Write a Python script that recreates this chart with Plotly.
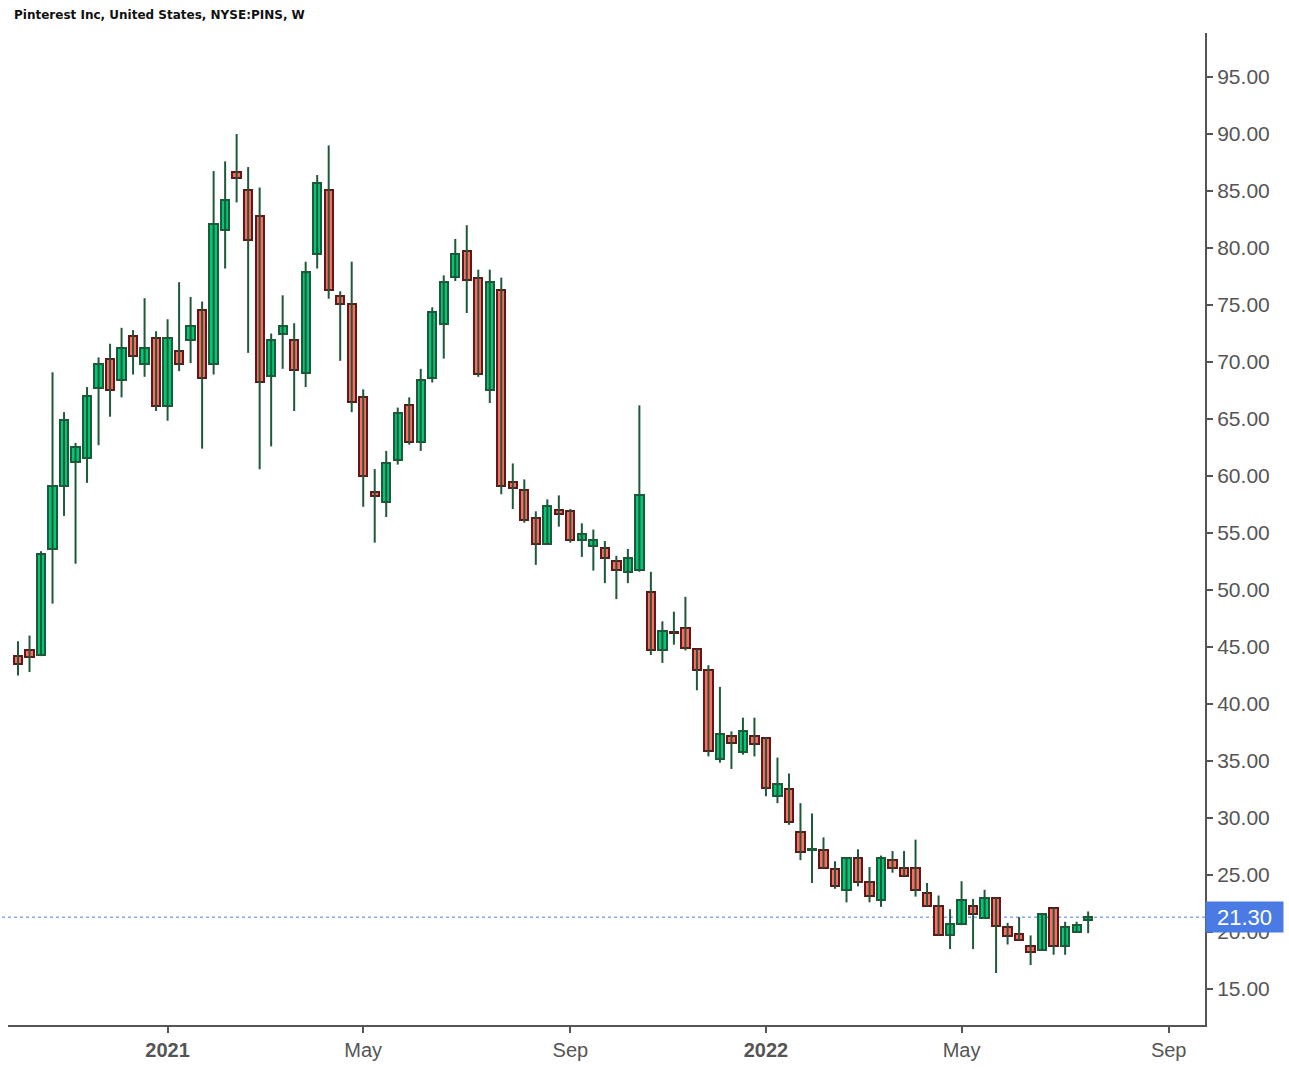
import plotly.graph_objects as go
import pandas as pd

# Weekly candles (week start dates), Pinterest Inc (NYSE:PINS)
start_date = "2020-09-28"
n_weeks = 94

opens = [44.2, 44.7, 44.3, 53.6, 59.1, 61.2, 61.6, 67.7, 70.3, 68.4,
         72.3, 69.8, 72.1, 66.1, 71.0, 71.9, 74.6, 69.8, 81.6, 86.7,
         85.1, 82.8, 68.8, 72.5, 71.9, 69.0, 79.5, 85.1, 75.8, 75.1,
         66.9, 58.6, 57.7, 61.4, 66.2, 63.0, 68.6, 73.3, 77.5, 79.7,
         77.4, 67.5, 76.3, 59.5, 58.8, 56.35, 54.0, 57.05, 56.9, 54.4,
         53.9, 53.7, 52.5, 51.6, 51.75, 49.85, 44.75, 46.3, 46.7, 44.8,
         43.0, 35.2, 37.2, 35.8, 37.2, 37.0, 31.9, 32.5, 28.8, 27.2,
         27.2, 25.5, 23.7, 26.5, 24.4, 22.8, 26.3, 25.6, 25.6, 23.4,
         22.3, 19.7, 20.7, 22.3, 21.2, 23.0, 20.4, 19.85, 18.8, 18.4,
         22.1, 18.8, 20.0, 21.05]
highs = [45.5, 46.0, 53.4, 69.1, 65.6, 62.9, 67.8, 70.4, 71.6, 73.0,
         72.8, 75.6, 72.7, 73.75, 77.0, 75.7, 75.3, 86.75, 87.6, 90.0,
         87.1, 85.3, 72.5, 75.85, 73.4, 78.8, 86.4, 89.0, 76.2, 78.8,
         67.6, 60.6, 62.2, 66.0, 66.9, 69.4, 74.8, 77.6, 80.8, 82.0,
         78.1, 78.1, 77.4, 61.1, 59.7, 56.9, 57.95, 58.3, 57.1, 55.85,
         55.3, 54.3, 53.0, 53.6, 66.2, 51.6, 47.25, 48.1, 49.4, 44.8,
         43.4, 41.5, 37.6, 38.8, 38.8, 37.1, 35.3, 33.9, 31.3, 30.4,
         28.3, 26.2, 26.5, 27.25, 25.7, 26.7, 27.1, 27.1, 28.1, 24.3,
         23.2, 22.0, 24.45, 22.9, 23.7, 23.0, 20.8, 21.3, 19.7, 21.6,
         22.1, 20.9, 20.9, 21.8]
lows = [42.5, 42.8, 44.2, 48.8, 56.5, 52.3, 59.4, 62.7, 65.2, 66.9,
        68.9, 68.7, 65.7, 64.85, 69.2, 69.9, 62.4, 68.9, 78.2, 84.0,
        70.8, 60.6, 62.6, 69.4, 65.7, 67.8, 78.2, 75.55, 70.1, 65.6,
        57.3, 54.15, 56.4, 61.0, 62.75, 62.2, 68.2, 70.3, 77.1, 74.3,
        68.7, 66.4, 58.4, 57.1, 55.9, 52.2, 54.0, 55.55, 54.15, 52.9,
        51.7, 50.6, 49.2, 50.6, 51.6, 44.3, 43.6, 45.2, 44.7, 41.2,
        35.4, 34.85, 34.3, 35.55, 35.4, 31.9, 31.3, 29.4, 26.3, 24.3,
        25.6, 23.8, 22.6, 24.0, 22.6, 22.2, 25.2, 24.9, 23.1, 22.3,
        19.7, 18.5, 20.6, 18.5, 21.2, 16.4, 18.9, 19.3, 17.1, 18.4,
        18.0, 18.0, 20.0, 19.9]
closes = [43.5, 44.1, 53.15, 59.1, 64.9, 62.5, 67.0, 69.8, 67.5, 71.2,
          70.5, 71.2, 66.1, 72.1, 69.8, 73.2, 68.6, 82.1, 84.2, 86.1,
          80.7, 68.25, 71.9, 73.16, 69.3, 77.9, 85.7, 76.3, 75.1, 66.5,
          60.0, 58.25, 61.1, 65.5, 63.0, 68.45, 74.4, 77.05, 79.5, 77.2,
          68.95, 77.05, 59.1, 58.95, 56.1, 54.0, 57.4, 56.7, 54.4, 54.9,
          54.4, 52.8, 51.75, 52.8, 58.3, 44.75, 46.4, 46.2, 44.9, 43.0,
          35.9, 37.4, 36.6, 37.6, 36.5, 32.6, 33.0, 29.65, 27.0, 27.3,
          25.6, 24.0, 26.5, 24.4, 23.2, 26.5, 25.6, 24.9, 23.7, 22.3,
          19.7, 20.7, 22.8, 21.6, 23.0, 20.5, 19.65, 19.3, 18.25, 21.6,
          18.8, 20.4, 20.6, 21.3]

last_price = 21.30
# ticks sit on the first weekly bar of each labelled month
tick_dates = ["2020-12-28", "2021-04-26", "2021-08-30", "2021-12-27", "2022-04-25", "2022-08-29"]
tick_labels = ["<b>2021</b>", "May", "Sep", "<b>2022</b>", "May", "Sep"]
title_text = "Pinterest Inc, United States, NYSE:PINS, W"

dates = pd.date_range(start_date, periods=n_weeks, freq="7D")

UP_FILL = "#00c875"
UP_LINE = "#1e5a3a"
DN_FILL = "#ff6b60"
DN_LINE = "#5c1a1a"
WICK = "#1e5a3a"
AXIS = "#555555"
FONT = "Liberation Sans, Arial, Helvetica, sans-serif"

# wicks
wx, wy = [], []
for d, h, l in zip(dates, highs, lows):
    wx += [d, d, None]
    wy += [l, h, None]

up = [c >= o for o, c in zip(opens, closes)]
base = [min(o, c) for o, c in zip(opens, closes)]
height = [abs(c - o) for o, c in zip(opens, closes)]

fig = go.Figure()
fig.add_trace(go.Scatter(x=wx, y=wy, mode="lines",
                         line=dict(color=WICK, width=2),
                         hoverinfo="skip", showlegend=False))
fig.add_trace(go.Bar(
    x=dates, y=height, base=base,
    width=0.72 * 7 * 86400000,
    marker=dict(color=[UP_FILL if u else DN_FILL for u in up],
                line=dict(color=[UP_LINE if u else DN_LINE for u in up], width=2)),
    showlegend=False,
    customdata=list(zip(opens, highs, lows, closes)),
    hovertemplate="O %{customdata[0]}<br>H %{customdata[1]}<br>L %{customdata[2]}<br>C %{customdata[3]}<extra></extra>",
))

fig.add_shape(type="line", xref="paper", x0=-0.01, x1=1, yref="y",
              y0=last_price, y1=last_price,
              line=dict(color="#4a7be5", width=1, dash="dot"), layer="below")

fig.add_annotation(xref="paper", x=1, xanchor="left", yref="y", y=last_price,
                   yanchor="middle", text=f"{last_price:.2f}", showarrow=False,
                   bgcolor="#4a7be5", font=dict(color="white", size=22, family=FONT),
                   width=71, height=24, borderpad=3, align="center")

fig.update_layout(
    width=1289, height=1069,
    margin=dict(l=8, r=84, t=33, b=44),
    paper_bgcolor="white", plot_bgcolor="white",
    showlegend=False,
    bargap=0,
    font=dict(family=FONT, color=AXIS),
    title=dict(text=f"<b>{title_text}</b>", xref="container", yref="container",
               x=14 / 1289, xanchor="left", y=1 - 15 / 1069, yanchor="middle",
               font=dict(size=12, color="#111111", family="DejaVu Sans")),
    xaxis=dict(type="date", range=["2020-09-21 22:00", "2022-09-20 02:00"],
               tickvals=tick_dates, ticktext=tick_labels,
               showgrid=False, zeroline=False,
               showline=True, linecolor=AXIS, linewidth=2,
               ticks="outside", ticklen=6, tickcolor=AXIS, tickwidth=2,
               tickfont=dict(size=20, color=AXIS)),
    yaxis=dict(side="right", range=[11.84, 98.86],
               tick0=0, dtick=5, tickformat=".2f",
               showgrid=False, zeroline=False,
               showline=True, linecolor=AXIS, linewidth=2,
               ticks="outside", ticklen=6, tickcolor=AXIS, tickwidth=2,
               tickfont=dict(size=21, color=AXIS)),
)

fig.write_html("out.html")
